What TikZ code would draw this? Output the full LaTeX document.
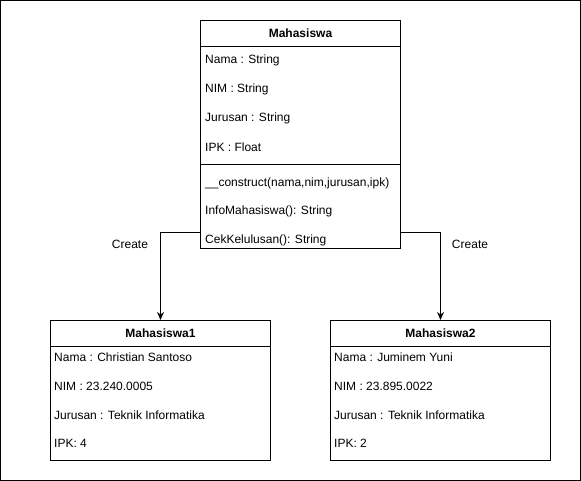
\documentclass[tikz,border=0pt]{standalone}
\usepackage{fontspec}
\setmainfont{Liberation Sans}
\usetikzlibrary{arrows.meta,calc,positioning}

\begin{document}
\begin{tikzpicture}[x=1pt,y=-1pt,>={Stealth[length=8pt,width=7pt]},
  font=\fontsize{12}{14}\selectfont,
  head/.style={draw,line width=1pt,anchor=north west,minimum height=26pt,
    minimum width=#1,inner sep=0pt,font=\fontsize{12}{14}\selectfont\bfseries},
  body/.style={draw,line width=1pt,anchor=north west,minimum width=#1,inner sep=0pt},
  row/.style={anchor=west,inner sep=0pt},
  link/.style={line width=1pt,->}]
\useasboundingbox (0,0) rectangle (581,481);
\draw[line width=1pt] (0.5,0.5) rectangle (580.5,480.5);

% class
\node[body=200pt,minimum height=228pt] (mhs) at (200,20) {};
\node[head=200pt] (mhsHead) at (200,20) {Mahasiswa};
\draw[line width=1pt] (mhs.west |- 0,165) -- (mhs.east |- 0,165);
\foreach \y/\t [count=\i] in {60/Nama : String,89/NIM : String,
  118/Jurusan : String,147/IPK : Float,183/{\_\_construct(nama,nim,jurusan,ipk)},
  211/InfoMahasiswa(): String,240/CekKelulusan(): String}
  \node[row] (mhsRow\i) at (205,\y) {\t};

% objects
\node[body=220pt,minimum height=140pt] (obj1) at (50,320) {};
\node[head=220pt] (obj1Head) at (50,320) {Mahasiswa1};
\foreach \y/\t [count=\i] in {357/Nama : Christian Santoso,386/NIM : 23.240.0005,
  415/Jurusan : Teknik Informatika,443/IPK: 4}
  \node[row] (obj1Row\i) at (54,\y) {\t};

\node[body=220pt,minimum height=140pt] (obj2) at (330,320) {};
\node[head=220pt] (obj2Head) at (330,320) {Mahasiswa2};
\foreach \y/\t [count=\i] in {357/Nama : Juminem Yuni,386/NIM : 23.895.0022,
  415/Jurusan : Teknik Informatika,443/IPK: 2}
  \node[row] (obj2Row\i) at (334,\y) {\t};

% create links
\coordinate (outL) at (mhs.west |- 0,233);
\coordinate (outR) at (mhs.east |- 0,233);
\draw[link] (outL) -| (obj1Head.north);
\draw[link] (outR) -| (obj2Head.north);
\node (lblL) at (130,244) {Create};
\node (lblR) at (470,244) {Create};
\end{tikzpicture}
\end{document}
